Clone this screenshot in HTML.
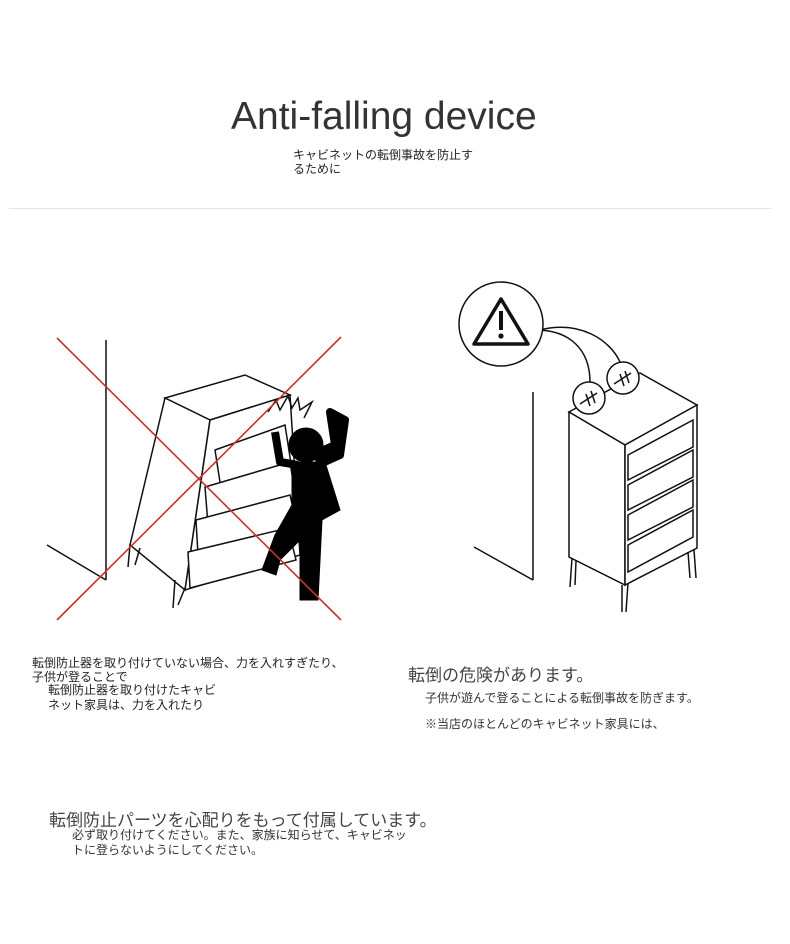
<!DOCTYPE html>
<html><head><meta charset="utf-8"><style>
body{margin:0;width:790px;height:944px;background:#fff;position:relative;overflow:hidden;font-family:"Liberation Sans","Noto Sans CJK JP",sans-serif;color:#333}
.t{position:absolute;white-space:nowrap}
</style></head><body>
<div class="t" style="left:231px;top:95px;font-size:39px;color:#333;font-family:'Liberation Sans',sans-serif">Anti-falling device</div>
<div class="t" style="left:293px;top:148px;font-size:12px;line-height:14px;color:#222">キャビネットの転倒事故を防止す<br>るために</div>
<div style="position:absolute;left:9px;top:208px;width:762px;height:1px;background:#e4e4e4"></div>

<svg style="position:absolute;left:0;top:0" width="790" height="944">
<g fill="none" stroke="#111" stroke-width="1.5">
<line x1="106" y1="340" x2="106" y2="580"/>
<line x1="47" y1="545" x2="106" y2="580"/>
<polygon points="165,398 245,375 290,395 210,420" fill="#fff"/>
<polygon points="165,398 210,420 185,590 130,545" fill="#fff"/>
<polygon points="210,420 290,395 300,555 185,590" fill="#fff"/>
<polygon points="215,450 285,425 292,470 222,495" fill="#fff"/>
<polygon points="205,487 290,462 296,500 208,525" fill="#fff"/>
<polygon points="196,520 290,495 298,530 198,555" fill="#fff"/>
<polygon points="188,552 288,528 296,560 190,588" fill="#fff"/>
<line x1="175" y1="580" x2="173" y2="608"/><line x1="185" y1="588" x2="178" y2="605"/>
<line x1="130" y1="545" x2="128" y2="567"/><line x1="140" y1="548" x2="135" y2="565"/>
<path d="M268 412 L276 400 L280 410 L288 396 L292 408 L298 398 L300 410 L312 402 L304 418"/>
<line x1="533" y1="392" x2="533" y2="580"/>
<line x1="474" y1="547" x2="533" y2="580"/>
<polygon points="569,412 625,445 697,405 640,373" fill="#fff"/>
<polygon points="569,412 625,445 625,585 569,557" fill="#fff"/>
<polygon points="625,445 697,405 697,548 625,585" fill="#fff"/>
<polygon points="628,455 693,420 693,447 628,480"/>
<polygon points="628,485 693,450 693,477 628,510"/>
<polygon points="628,515 693,480 693,507 628,540"/>
<polygon points="628,545 693,510 693,537 628,572"/>
<line x1="572" y1="558" x2="570" y2="587"/><line x1="576" y1="561" x2="575" y2="585"/>
<line x1="622" y1="585" x2="622" y2="612"/><line x1="628" y1="583" x2="626" y2="612"/>
<line x1="688" y1="552" x2="690" y2="578"/><line x1="694" y1="550" x2="696" y2="578"/>
<path d="M536 330 C570 330 590 350 590 382"/>
<path d="M540 330 C580 320 610 340 620 362"/>
<circle cx="589" cy="398" r="16" fill="#fff"/>
<circle cx="623" cy="378" r="16" fill="#fff"/>
<line x1="580" y1="404" x2="597" y2="393"/><line x1="586" y1="394" x2="590" y2="406"/><line x1="591" y1="391" x2="595" y2="403"/>
<line x1="614" y1="384" x2="631" y2="373"/><line x1="620" y1="374" x2="624" y2="386"/><line x1="625" y1="371" x2="629" y2="383"/>
<circle cx="501" cy="324" r="42" fill="#fff"/>
<polygon points="501,299 528,344 474,344" stroke-width="3.5" stroke-linejoin="round"/>
</g>
<g fill="#000" stroke="#000">
<circle cx="306" cy="445" r="17"/>
<path d="M292 462 L325 462 L340 510 L322 520 L318 600 L300 600 L300 540 L280 560 L276 575 L262 570 L275 535 L292 505 Z"/>
<path d="M318 465 L340 455 L345 420 L330 412 L335 445 L312 455" stroke-width="8" stroke-linejoin="round"/>
<path d="M298 465 L280 462 L275 432" stroke-width="8" fill="none" stroke-linejoin="round"/>
</g>
<g fill="#111"><rect x="499" y="311" width="4" height="19"/><circle cx="501" cy="336" r="2.6"/></g>
<g stroke="#c8312f" stroke-width="1.6"><line x1="57" y1="338" x2="341" y2="620"/><line x1="341" y1="337" x2="57" y2="620"/></g>
</svg>

<div class="t" style="left:32px;top:656px;font-size:12px;line-height:14px;color:#222">転倒防止器を取り付けていない場合、力を入れすぎたり、<br>子供が登ることで</div>
<div class="t" style="left:48px;top:683px;font-size:12px;line-height:15px;color:#222">転倒防止器を取り付けたキャビ<br>ネット家具は、力を入れたり</div>
<div class="t" style="left:408px;top:661px;font-size:17px;color:#444">転倒の危険があります。</div>
<div class="t" style="left:425px;top:689px;font-size:12px;color:#333">子供が遊んで登ることによる転倒事故を防ぎます。</div>
<div class="t" style="left:425px;top:715px;font-size:12px;color:#333">※当店のほとんどのキャビネット家具には、</div>
<div class="t" style="left:49px;top:806px;font-size:17px;color:#444">転倒防止パーツを心配りをもって付属しています。</div>
<div class="t" style="left:72px;top:828px;font-size:12px;line-height:15px;color:#333">必ず取り付けてください。また、家族に知らせて、キャビネッ<br>トに登らないようにしてください。</div>
</body></html>
